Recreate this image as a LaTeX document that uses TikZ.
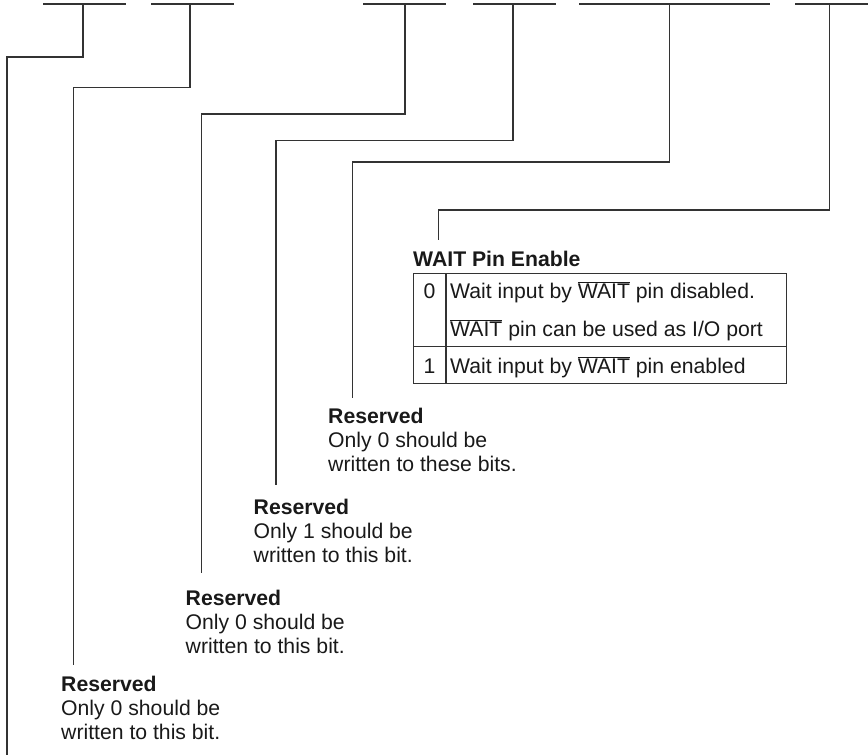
\documentclass[tikz,border=0pt]{standalone}
\usepackage{fontspec}
\setmainfont{Liberation Sans}
\usetikzlibrary{positioning,calc}
\newcommand{\waitbar}{$\overline{\mbox{WAIT}}$}

\begin{document}
\begin{tikzpicture}[
  x=1pt, y=-1pt,
  every node/.style={text=black!90, font=\fontsize{21.2}{24}\selectfont},
  wire/.style={draw=black!80, line width=1.2pt},
  note/.style={anchor=base west, align=left, inner sep=0pt},
  cell/.style={anchor=base west, inner sep=0pt},
  bitcell/.style={anchor=base, inner sep=0pt}
]
\useasboundingbox (0,0) rectangle (868,755);

% Bit fields
\draw[wire] (43,4) -- (126,4);
\draw[wire] (151,4) -- (234,4);
\draw[wire] (363,4) -- (446,4);
\draw[wire] (473,4) -- (556,4);
\draw[wire] (579,4) -- (770,4);
\draw[wire] (795,4) -- (880,4);
\coordinate (bit_7) at (83,4);
\coordinate (bit_6) at (190,4);
\coordinate (bit_5) at (405,4);
\coordinate (bit_4) at (513,4);
\coordinate (bit_3) at (669.5,4);
\coordinate (bit_0) at (829.5,4);

% Free ends of the leader lines
\coordinate (end_7) at (7,755);
\coordinate (end_6) at (73.5,665);
\coordinate (end_5) at (201.5,572.5);
\coordinate (end_4) at (276,485);
\coordinate (end_3) at (352.5,397.5);
\coordinate (end_0) at (438.5,239.5);

\draw[wire] (bit_7) -- ++(0,53) -| (end_7);
\draw[wire] (bit_6) -- ++(0,83.5) -| (end_6);
\draw[wire] (bit_5) -- ++(0,110) -| (end_5);
\draw[wire] (bit_4) -- ++(0,136.5) -| (end_4);
\draw[wire] (bit_3) -- ++(0,158) -| (end_3);
\draw[wire] (bit_0) -- ++(0,206) -| (end_0);

% WAIT pin enable
\node[cell] (wait_title) at (413,266) {\textbf{WAIT Pin Enable}};
\node[draw=black!80, line width=1.2pt, inner sep=0pt, anchor=north west,
  minimum width=373, minimum height=110] (wait_table) at (413,273) {};
\coordinate (col_top) at (446,273);
\coordinate (col_bot) at (446,383);
\coordinate (row_left) at (413,346.7);
\coordinate (row_right) at (786,346.7);
\draw[wire] (col_top) -- (col_bot);
\draw[wire] (row_left) -- (row_right);
\node[bitcell] (wait_zero) at (429.5,298) {0};
\node[cell] (wait_off) at (450,298) {Wait input by \waitbar{} pin disabled.};
\node[cell] (wait_port) at (450,336) {\waitbar{} pin can be used as I/O port};
\node[bitcell] (wait_one) at (429.5,373) {1};
\node[cell] (wait_on) at (450,373) {Wait input by \waitbar{} pin enabled};

% Reserved bits (base = last line)
\node[note] (reserved_3) at (328,471) {\textbf{Reserved}\\Only 0 should be\\written to these bits.};
\node[note] (reserved_4) at (253.5,562) {\textbf{Reserved}\\Only 1 should be\\written to this bit.};
\node[note] (reserved_5) at (185.5,653) {\textbf{Reserved}\\Only 0 should be\\written to this bit.};
\node[note] (reserved_6) at (61,739) {\textbf{Reserved}\\Only 0 should be\\written to this bit.};

\end{tikzpicture}
\end{document}
